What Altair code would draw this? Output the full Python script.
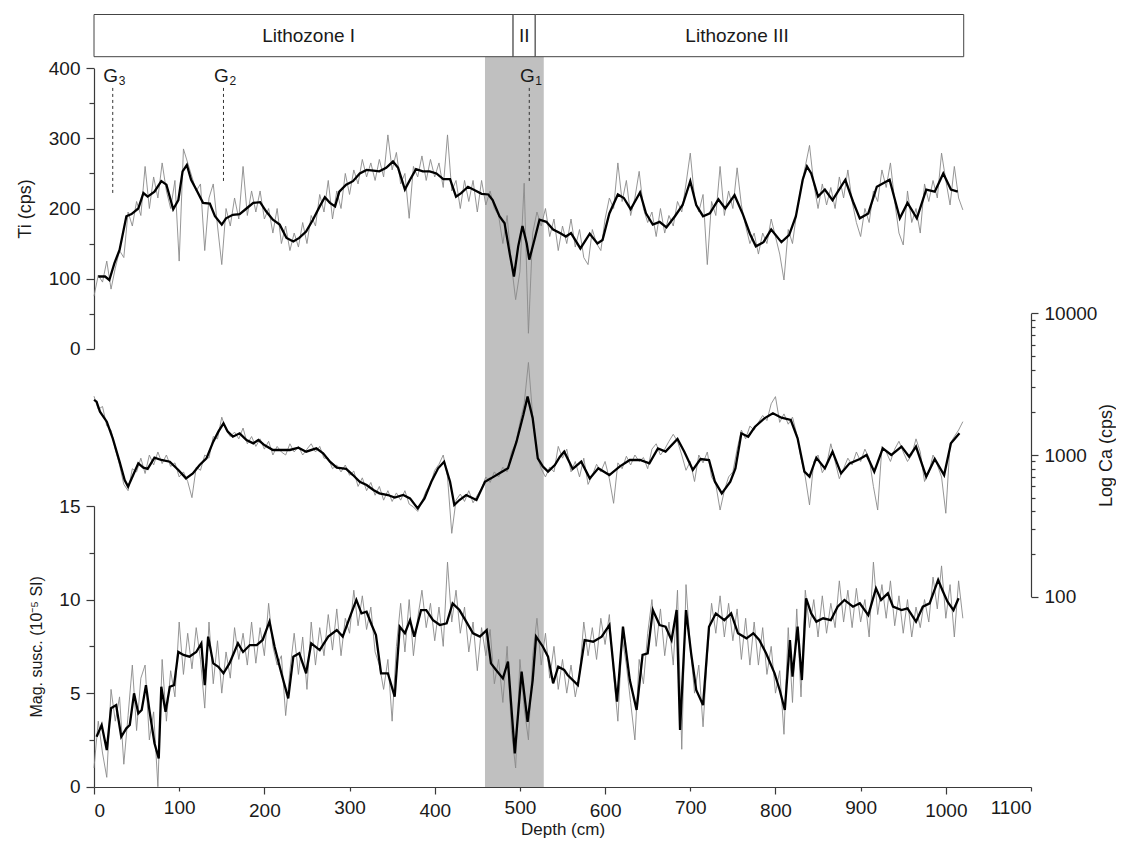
import altair as alt
import pandas as pd

FONT = "Liberation Sans"

# ---------------- data ----------------
raw_depth = list(range(0, 1025, 5))  # sampling depths (cm) of the raw scans

ti_raw = [
    75, 105, 95, 125, 85, 115, 140, 130, 195, 175,
    210, 190, 260, 200, 245, 215, 265, 225, 200, 240,
    125, 285, 265, 245, 225, 235, 140, 215, 235, 175,
    120, 200, 175, 215, 185, 260, 190, 225, 195, 225,
    185, 200, 165, 200, 150, 175, 140, 165, 145, 180,
    150, 190, 175, 220, 195, 240, 185, 225, 200, 250,
    220, 255, 235, 270, 245, 265, 240, 270, 245, 305,
    255, 280, 235, 250, 186, 260, 245, 275, 240, 270,
    245, 265, 230, 305, 225, 240, 200, 240, 210, 240,
    195, 240, 205, 225, 200, 190, 150, 190, 120, 70,
    110, 236, 22, 165, 195, 175, 200, 160, 185, 140,
    175, 150, 185, 145, 170, 130, 120, 170, 150, 140,
    185, 215, 200, 265, 210, 240, 190, 215, 253, 200,
    180, 195, 160, 200, 165, 190, 175, 210, 195, 235,
    279, 215, 195, 220, 120, 210, 190, 260, 190, 225,
    200, 258, 205, 175, 150, 165, 135, 165, 150, 185,
    160, 135, 98, 170, 150, 195, 230, 260, 290, 235,
    200, 235, 205, 230, 200, 245, 215, 255, 210, 180,
    160, 200, 180, 225, 210, 255, 230, 265, 210, 165,
    148, 225, 180, 200, 165, 235, 210, 240, 215, 279,
    240, 205, 260, 215, 198,
]

ca_raw = [
    2600, 2100, 2200, 1600, 1500, 1100, 850, 620, 560, 800,
    760, 950, 740, 1000, 850, 1050, 870, 1000, 830, 880,
    700, 760, 650, 500, 820, 780, 1000, 950, 1350, 1300,
    1850, 1500, 1350, 1450, 1300, 1550, 1200, 1350, 1150, 1300,
    1100, 1250, 1000, 1150, 1050, 1000, 1200, 1050, 1150, 1000,
    1100, 1200, 1050, 1150, 950, 950, 800, 850, 760, 850,
    720, 770, 600, 690, 560, 640, 520, 600, 480, 560,
    470, 540, 480, 560, 450, 430, 400, 470, 560, 620,
    780, 860, 1000, 700, 280, 480, 530, 470, 560, 460,
    520, 580, 700, 640, 760, 700, 820, 760, 1050, 1200,
    1700, 2300, 4500, 1900, 1000, 800, 700, 820, 760, 1150,
    950, 1100, 760, 900, 700, 950, 620, 720, 860, 760,
    900, 680, 456, 880, 800, 980, 850, 1000, 900, 960,
    800, 1100, 1200, 1000, 1100, 1250, 1400, 1250, 1000, 780,
    900, 650, 1000, 880, 1050, 700, 620, 409, 560, 700,
    760, 1100, 1500, 1300, 1600, 1500, 1700, 1900, 1750, 2300,
    2582, 1700, 1950, 1650, 1850, 1400, 950, 700, 444, 900,
    1000, 750, 850, 1200, 900, 680, 800, 950, 850, 1050,
    900, 1100, 950, 600, 409, 1150, 1050, 900, 1100, 1250,
    1050, 900, 1000, 1300, 1050, 650, 750, 1000, 850, 700,
    388, 1200, 1350, 1500, 1719,
]

mag_raw = [
    1.0, 3.5, 1.8, 0.5, 5.2, 3.5, 4.8, 1.2, 3.8, 6.5,
    3.0, 5.8, 6.5, 2.5, 4.0, 0.0, 6.8, 3.5, 6.2, 4.8,
    8.8, 6.0, 8.2, 6.3, 8.5, 6.8, 4.2, 8.8, 5.5, 7.8,
    5.0, 7.2, 5.8, 8.5, 6.8, 8.2, 6.5, 8.8, 6.6, 8.5,
    7.0, 9.8, 7.5, 6.5, 7.0, 3.8, 6.2, 8.2, 6.0, 8.0,
    5.2, 8.8, 6.5, 8.5, 7.0, 9.2, 7.3, 9.5, 7.0, 9.0,
    8.2, 10.5, 8.6, 10.2, 8.4, 9.6, 7.2, 6.5, 5.2, 6.8,
    3.5, 7.5, 9.8, 7.2, 10.0, 7.0, 9.0, 10.5, 8.5, 9.8,
    7.8, 9.6, 7.5, 12.0, 8.8, 10.5, 8.2, 9.6, 7.2, 8.8,
    6.2, 8.5, 7.0, 8.4, 5.5, 6.8, 4.5, 7.5, 3.0, 1.0,
    6.8, 4.2, 2.5, 7.0, 9.0, 6.5, 8.2, 5.8, 7.5, 5.2,
    6.8, 5.0, 6.5, 4.8, 6.0, 8.8, 7.0, 8.5, 6.8, 9.0,
    7.6, 9.2, 6.0, 3.5, 8.0, 6.5, 4.5, 2.5, 6.8, 5.5,
    8.2, 10.0, 7.5, 9.5, 7.0, 8.8, 6.5, 10.5, 2.0, 10.8,
    7.5, 5.0, 6.5, 3.2, 7.0, 9.8, 8.2, 10.2, 8.0, 9.8,
    7.8, 9.5, 6.8, 9.0, 6.5, 8.8, 6.5, 8.5, 6.0, 7.5,
    5.0, 6.2, 2.8, 8.5, 4.5, 9.5, 4.8, 10.5, 8.5, 10.0,
    8.0, 10.2, 8.2, 9.8, 8.5, 11.0, 8.8, 10.5, 8.5, 10.6,
    8.8, 10.0, 8.0, 12.0, 9.2, 10.8, 9.0, 11.0, 8.6, 10.2,
    8.2, 10.0, 8.0, 9.6, 8.5, 10.0, 8.8, 11.2, 9.5, 11.8,
    9.0, 10.8, 8.0, 11.0, 9.0,
]

# smoothed curves: (depth cm, value)
ti_smooth = [
    (5, 103), (13, 103), (18, 98), (24, 122), (30, 141), (38, 189), (44, 192), (52, 200),
    (58, 222), (63, 217), (71, 224), (79, 239), (85, 234), (93, 199), (99, 212), (104, 253),
    (109, 262), (114, 241), (120, 227), (128, 208), (136, 207), (142, 189), (150, 177),
    (155, 186), (163, 191), (171, 192), (179, 200), (187, 208), (195, 209), (202, 196),
    (210, 184), (218, 177), (226, 158), (234, 153), (241, 158), (249, 167), (257, 184),
    (265, 203), (271, 216), (277, 208), (283, 203), (288, 224), (296, 234), (304, 239),
    (312, 250), (320, 255), (328, 254), (335, 253), (343, 258), (351, 267), (357, 258),
    (365, 227), (371, 241), (378, 256), (386, 253), (394, 253), (402, 250), (410, 242),
    (418, 242), (425, 217), (431, 222), (439, 231), (447, 226), (455, 221), (463, 220),
    (468, 212), (476, 189), (482, 179), (488, 136), (493, 103), (498, 146), (503, 175),
    (508, 150), (511, 127), (517, 155), (523, 184), (531, 181), (539, 170), (547, 165),
    (554, 160), (560, 165), (571, 143), (582, 164), (591, 150), (597, 155), (605, 193),
    (615, 220), (622, 215), (630, 199), (641, 223), (648, 193), (656, 177), (664, 181),
    (672, 173), (682, 189), (691, 205), (700, 239), (707, 205), (715, 189), (723, 193),
    (733, 213), (741, 200), (752, 219), (762, 191), (770, 164), (777, 146), (786, 152),
    (795, 170), (807, 152), (816, 162), (824, 189), (832, 241), (837, 260), (842, 250),
    (850, 217), (858, 227), (867, 212), (882, 241), (891, 210), (899, 186), (909, 193),
    (919, 231), (934, 241), (946, 186), (955, 208), (966, 186), (977, 227), (987, 224),
    (997, 250), (1006, 227), (1014, 224),
]

ca_smooth = [
    (0, 2450), (3, 2378), (7, 2022), (15, 1719), (22, 1311), (30, 897), (36, 666), (40, 598),
    (46, 722), (52, 873), (58, 814), (63, 797), (71, 957), (79, 922), (89, 897), (99, 784),
    (108, 684), (116, 742), (124, 850), (132, 947), (140, 1242), (146, 1461), (152, 1673),
    (157, 1461), (163, 1347), (171, 1422), (179, 1276), (187, 1209), (193, 1276), (200, 1176),
    (210, 1085), (222, 1085), (230, 1085), (240, 1127), (249, 1056), (261, 1114), (269, 1027),
    (277, 897), (285, 814), (296, 797), (304, 722), (312, 648), (320, 614), (328, 566),
    (335, 536), (345, 522), (353, 500), (363, 522), (371, 494), (380, 420), (388, 494),
    (396, 648), (404, 805), (411, 897), (418, 648), (423, 444), (429, 481), (437, 522),
    (449, 481), (459, 648), (466, 684), (476, 742), (486, 805), (496, 1242), (504, 1916),
    (509, 2582), (515, 1815), (521, 947), (527, 828), (533, 763), (541, 850), (547, 973),
    (552, 1056), (562, 797), (572, 897), (582, 684), (592, 805), (605, 722), (617, 828),
    (629, 922), (641, 922), (652, 873), (662, 1114), (671, 1056), (685, 1297), (693, 1056),
    (703, 784), (712, 937), (722, 922), (729, 648), (737, 536), (747, 648), (753, 805),
    (760, 1422), (768, 1347), (776, 1585), (787, 1815), (797, 1969), (807, 1834), (818, 1766),
    (826, 1311), (834, 763), (840, 703), (848, 957), (858, 805), (867, 1056), (877, 742),
    (887, 873), (899, 937), (907, 1000), (916, 763), (926, 1114), (936, 1000), (948, 1145),
    (957, 973), (965, 1145), (977, 703), (987, 937), (998, 722), (1006, 1209), (1016, 1422),
]

mag_smooth = [
    (3, 2.67), (9, 3.3), (15, 1.96), (20, 4.19), (26, 4.36), (32, 2.67), (38, 3.12), (42, 3.3),
    (47, 4.99), (52, 3.92), (56, 4.1), (61, 5.43), (65, 4.1), (71, 2.32), (76, 1.51), (79, 5.34),
    (84, 4.0), (89, 5.34), (94, 5.43), (99, 7.2), (105, 7.04), (112, 6.95), (120, 7.2),
    (126, 7.66), (130, 5.43), (134, 8.02), (140, 6.59), (146, 6.41), (152, 6.06), (159, 6.59),
    (169, 7.66), (175, 7.2), (183, 7.57), (191, 7.57), (198, 7.84), (206, 8.82), (212, 7.48),
    (220, 6.06), (228, 4.72), (234, 6.95), (241, 7.13), (249, 6.06), (255, 7.66), (265, 7.3),
    (275, 8.02), (285, 8.37), (292, 8.02), (302, 9.26), (308, 9.98), (314, 9.26), (320, 9.35),
    (326, 8.64), (331, 8.1), (337, 6.06), (345, 6.06), (353, 4.81), (359, 8.55), (365, 8.2),
    (371, 8.9), (376, 8.02), (384, 9.44), (390, 9.44), (398, 8.9), (406, 8.64), (414, 8.73),
    (421, 9.8), (429, 9.44), (437, 8.82), (445, 8.2), (453, 8.02), (461, 8.37), (466, 6.59),
    (472, 6.24), (480, 5.79), (486, 6.68), (494, 1.78), (502, 6.15), (509, 3.47), (515, 5.7),
    (519, 8.02), (527, 7.48), (533, 6.95), (539, 5.52), (545, 6.41), (552, 6.24), (556, 5.97),
    (568, 5.43), (576, 7.84), (586, 7.75), (596, 8.02), (605, 8.64), (614, 4.54), (621, 8.55),
    (629, 5.7), (637, 4.1), (644, 7.04), (650, 7.13), (656, 9.44), (664, 8.64), (671, 8.55),
    (678, 7.84), (684, 9.44), (688, 3.03), (695, 9.44), (701, 7.13), (707, 5.17), (715, 4.36),
    (722, 8.55), (730, 9.26), (740, 8.9), (748, 9.26), (756, 8.2), (766, 7.93), (774, 8.2),
    (781, 7.84), (789, 7.13), (799, 6.06), (805, 5.17), (811, 4.1), (817, 7.84), (820, 5.88),
    (826, 8.55), (831, 5.7), (836, 10.07), (842, 9.26), (848, 8.82), (856, 9.0), (865, 8.9),
    (873, 9.62), (881, 9.98), (891, 9.62), (899, 9.8), (909, 9.17), (918, 10.6), (924, 9.98),
    (932, 10.33), (938, 9.62), (948, 9.44), (955, 9.53), (965, 8.82), (973, 9.62), (981, 9.8),
    (991, 11.05), (996, 10.5), (1002, 9.89), (1009, 9.44), (1015, 10.07),
]

# lithozones
zone_names = ["Lithozone I", "II", "Lithozone III"]
zone_start = [0, 492, 518]
zone_end = [492, 518, 1021]
zone_label_x = [252, 505, 755]

# highlighted interval
band_start = [459]
band_end = [528]

# G markers
g_depth = [22, 152, 511]
g_sub = ["3", "2", "1"]
g_top = [372, 372, 372]
g_bottom = [222, 238, 238]
g_label_y = [381, 381, 381]

# axis ticks
x_ticks = [0, 100, 200, 300, 400, 500, 600, 700, 800, 900, 1000, 1100]
ti_ticks = [0, 50, 100, 150, 200, 250, 300, 350, 400]
mag_ticks = [0, 2.5, 5, 7.5, 10, 12.5, 15]
ca_ticks = [100, 200, 300, 400, 500, 600, 700, 800, 900,
            1000, 2000, 3000, 4000, 5000, 6000, 7000, 8000, 9000, 10000]

# ---------------- frames ----------------
df_ti_raw = pd.DataFrame({"depth": raw_depth, "v": ti_raw})
df_ca_raw = pd.DataFrame({"depth": raw_depth, "v": ca_raw})
df_mag_raw = pd.DataFrame({"depth": raw_depth, "v": mag_raw})
df_ti_s = pd.DataFrame(ti_smooth, columns=["depth", "v"])
df_ca_s = pd.DataFrame(ca_smooth, columns=["depth", "v"])
df_mag_s = pd.DataFrame(mag_smooth, columns=["depth", "v"])
df_zone = pd.DataFrame({"name": zone_names, "depth": zone_start, "depth2": zone_end,
                        "lx": zone_label_x})
df_band = pd.DataFrame({"depth": band_start, "depth2": band_end})
df_g = pd.DataFrame({"depth": g_depth, "sub": g_sub, "top": g_top, "bottom": g_bottom,
                     "ly": g_label_y, "G": ["G", "G", "G"]})

W, H = 937, 773
TXT = "#1a1a1a"
AX = "#3a3a3a"

x_scale = alt.Scale(domain=[0, 1100], nice=False, zero=False)
x_axis = alt.Axis(
    title="Depth (cm)", values=x_ticks, format="d",
    tickSize={"condition": {"test": "datum.value % 200 == 0", "value": 7}, "value": 4},
    labelPadding=7, titlePadding=1,
)


def X(field):
    return alt.X(f"{field}:Q", scale=x_scale, axis=x_axis)


ti_scale = alt.Scale(domain=[0, 400], range=[334.7, 54.3], nice=False, zero=False)
ti_axis = alt.Axis(
    title="Ti (cps)", orient="left", values=ti_ticks,
    labelExpr="datum.value % 100 == 0 ? datum.label : ''",
    tickSize={"condition": {"test": "datum.value % 100 == 0", "value": 8}, "value": 5},
    labelPadding=6, titlePadding=14, titleFontSize=18,
)
ca_scale = alt.Scale(type="log", domain=[100, 10000], range=[582.7, 299.3], nice=False)
ca_axis = alt.Axis(
    title="Log Ca (cps)", orient="right", values=ca_ticks, format="d",
    labelExpr="(datum.value == 100 || datum.value == 1000 || datum.value == 10000) ? datum.label : ''",
    tickSize={"condition": {"test": "datum.value == 100 || datum.value == 1000 || datum.value == 10000",
                            "value": 7}, "value": 4},
    labelPadding=6, titlePadding=1, titleAngle=270, titleBaseline="top", titleFontSize=18,
)
mag_scale = alt.Scale(domain=[0, 15], range=[772.7, 492], nice=False, zero=False)
mag_axis = alt.Axis(
    title="Mag. susc. (10⁻⁵ SI)", orient="left", values=mag_ticks,
    labelExpr="datum.value % 5 == 0 ? datum.label : ''",
    tickSize={"condition": {"test": "datum.value % 5 == 0", "value": 8}, "value": 5},
    labelPadding=6, titlePadding=14, titleFontSize=16,
)

# background band
band = alt.Chart(df_band).mark_rect(color="#c0c0c0").encode(
    x=X("depth"), x2="depth2", y=alt.value(42.7), y2=alt.value(H)
)

# lithozone boxes
zones = alt.Chart(df_zone).mark_rect(fill="white", stroke="#444", strokeWidth=1).encode(
    x=X("depth"), x2="depth2", y=alt.value(0.5), y2=alt.value(42.7)
)
zone_text = alt.Chart(df_zone).mark_text(
    font=FONT, fontSize=19, color=TXT, baseline="middle", align="center"
).encode(x=X("lx"), y=alt.value(21.5), text="name:N")


def Y(scale, axis):
    return alt.Y("v:Q", scale=scale, axis=axis)


def group(raw_df, smooth_df, scale, axis, extra=None):
    raw = alt.Chart(raw_df).mark_line(color="#8a8a8a", strokeWidth=0.9).encode(
        x=X("depth"), y=Y(scale, axis))
    sm = alt.Chart(smooth_df).mark_line(color="black", strokeWidth=2.3).encode(
        x=X("depth"), y=Y(scale, axis))
    layers = [raw, sm] + (extra or [])
    return alt.layer(*layers)


g_rule = alt.Chart(df_g).mark_rule(color="#333", strokeWidth=1, strokeDash=[3, 3]).encode(
    x=X("depth"), y=alt.Y("top:Q", scale=ti_scale, axis=ti_axis), y2="bottom")
g_text = alt.Chart(df_g).mark_text(
    font=FONT, fontSize=19, color=TXT, align="center", baseline="alphabetic", dx=-2
).encode(x=X("depth"), y=alt.Y("ly:Q", scale=ti_scale, axis=ti_axis), text="G:N")
g_subtext = alt.Chart(df_g).mark_text(
    font=FONT, fontSize=12, color=TXT, align="left", baseline="alphabetic", dx=6, dy=3
).encode(x=X("depth"), y=alt.Y("ly:Q", scale=ti_scale, axis=ti_axis), text="sub:N")

ti_group = group(df_ti_raw, df_ti_s, ti_scale, ti_axis, [g_rule, g_text, g_subtext])
ca_group = group(df_ca_raw, df_ca_s, ca_scale, ca_axis)
mag_group = group(df_mag_raw, df_mag_s, mag_scale, mag_axis)

chart = (
    alt.layer(band, zones, zone_text, ti_group, ca_group, mag_group)
    .resolve_scale(y="independent")
    .properties(
        width=W, height=H,
        padding={"left": 86, "top": 6, "right": 85, "bottom": 55},
        autosize=alt.AutoSizeParams(type="none"),
        background="white",
    )
    .configure_view(stroke=None)
    .configure_axis(
        grid=False, domainColor=AX, tickColor=AX, domainWidth=1.2, tickWidth=1.2,
        labelFont=FONT, titleFont=FONT, labelFontSize=19, titleFontSize=17,
        labelColor=TXT, titleColor=TXT, titleFontWeight="normal",
    )
)

chart.save("out.html", embed_options={"renderer": "svg", "actions": False})
